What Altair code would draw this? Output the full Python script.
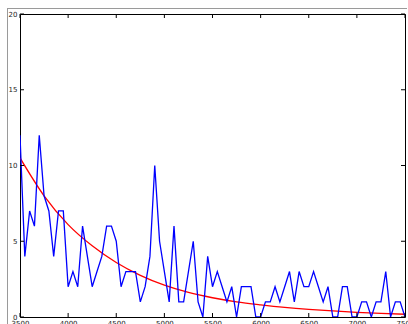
import altair as alt
import pandas as pd

# ---- data ----
x_start, x_step = 3500, 50
counts = [12, 4, 7, 6, 12, 8, 7, 4, 7, 7,
          2, 3, 2, 6, 4, 2, 3, 4, 6, 6,
          5, 2, 3, 3, 3, 1, 2, 4, 10, 5,
          3, 1, 6, 1, 1, 3, 5, 1, 0, 4,
          2, 3, 2, 1, 2, 0, 2, 2, 2, 0,
          0, 1, 1, 2, 1, 2, 3, 1, 3, 2,
          2, 3, 2, 1, 2, 0, 0, 2, 2, 0,
          0, 1, 1, 0, 1, 1, 3, 0, 1, 1, 0]
x_vals = [x_start + x_step * i for i in range(len(counts))]

fit_x = [3500, 3750, 4000, 4250, 4500, 4750, 5000, 5250, 5500,
         5750, 6000, 6250, 6500, 6750, 7000, 7250, 7500]
fit_y = [10.5, 8.0, 6.1, 4.7, 3.6, 2.75, 2.1, 1.62, 1.27,
         1.0, 0.8, 0.63, 0.5, 0.4, 0.31, 0.24, 0.18]

x_ticks = [3500, 4000, 4500, 5000, 5500, 6000, 6500, 7000, 7500]
y_ticks = [0, 5, 10, 15, 20]

W, H = 385, 303

blue_df = pd.DataFrame({"x": x_vals, "y": counts})
red_df = pd.DataFrame({"x": fit_x, "y": fit_y})
xt_df = pd.DataFrame({"x": x_ticks})
yt_df = pd.DataFrame({"y": y_ticks})

xscale = alt.Scale(domain=[3500, 7500], nice=False, zero=False)
yscale = alt.Scale(domain=[0, 20], nice=False)

lab = dict(labelFont="DejaVu Sans", labelFontSize=7, labelColor="#222",
           ticks=False, tickSize=0, domain=False, grid=False, title=None,
           format="d")

xenc = alt.X("x:Q", scale=xscale,
             axis=alt.Axis(values=x_ticks, labelPadding=2, labelFlush=False, **lab))
yenc = alt.Y("y:Q", scale=yscale,
             axis=alt.Axis(values=y_ticks, labelPadding=3, labelFlush=False, **lab))

blue = alt.Chart(blue_df).mark_line(color="#0000ff", strokeWidth=1.3, clip=True).encode(
    x=xenc, y=yenc)
red = alt.Chart(red_df).mark_line(color="#ff0000", strokeWidth=1.3,
                                  interpolate="monotone", clip=True).encode(
    x=alt.X("x:Q", scale=xscale), y=alt.Y("y:Q", scale=yscale))

tick_style = dict(color="black", strokeWidth=1)
xt_bot = alt.Chart(xt_df).mark_rule(**tick_style).encode(
    x=alt.X("x:Q", scale=xscale), y=alt.value(H), y2=alt.value(H - 4))
xt_top = alt.Chart(xt_df).mark_rule(**tick_style).encode(
    x=alt.X("x:Q", scale=xscale), y=alt.value(0), y2=alt.value(4))
yt_left = alt.Chart(yt_df).mark_rule(**tick_style).encode(
    y=alt.Y("y:Q", scale=yscale), x=alt.value(0), x2=alt.value(4))
yt_right = alt.Chart(yt_df).mark_rule(**tick_style).encode(
    y=alt.Y("y:Q", scale=yscale), x=alt.value(W), x2=alt.value(W - 4))

# thin grey figure border seen at the top-left of the reference
border_v = alt.Chart(xt_df).mark_rule(color="#9a9a9a", strokeWidth=1).encode(
    x=alt.value(-12.5), y=alt.value(-5.5), y2=alt.value(H + 10))
border_h = alt.Chart(xt_df).mark_rule(color="#9a9a9a", strokeWidth=1).encode(
    y=alt.value(-5.5), x=alt.value(-12.5), x2=alt.value(W + 2))

chart = alt.layer(border_v, border_h, red, blue, xt_bot, xt_top, yt_left, yt_right).properties(
    width=W, height=H,
    autosize=alt.AutoSizeParams(type="none"),
    padding={"left": 20, "top": 14, "right": 3, "bottom": 7},
    background="white",
).configure_view(stroke="black", strokeWidth=1)

chart.save("out.html", embed_options={"renderer": "svg", "actions": False})
